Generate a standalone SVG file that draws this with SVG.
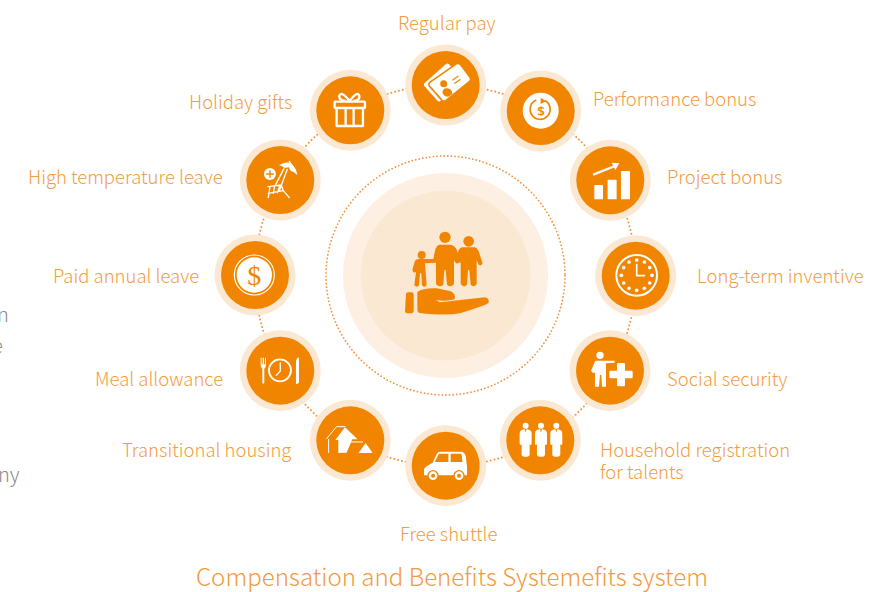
<svg xmlns="http://www.w3.org/2000/svg" width="894" height="592" viewBox="0 0 894 592">
<style>
.o{fill:#fbe8d3}.i{fill:#f18500}
.w{fill:#fff}.s{fill:none;stroke:#fff;stroke-linecap:round;stroke-linejoin:round}.f{fill:#f18500}.fs{fill:none;stroke:#f18500;stroke-linecap:round;stroke-linejoin:round}
.d{fill:none;stroke:#f2923a;stroke-width:2;stroke-linecap:round;stroke-dasharray:0 3.9}
text{font-family:"Noto Sans CJK SC","Noto Sans",sans-serif;font-weight:300}
.l{font-size:18.5px;fill:#f39c42}
.g{font-size:20px;fill:#8a8a8a}
</style>
<rect width="894" height="592" fill="#fff"/>
<text class="g" x="-3" y="322">n</text>
<text class="g" x="-8" y="353">e</text>
<text class="g" x="-2" y="482">ny</text>
<g id="connectors">
<circle class="d" cx="445.5" cy="275.5" r="190.5"/>
</g>
<g id="center">
<circle cx="445.5" cy="275.5" r="119.5" class="d" style="stroke-width:1.8;stroke-dasharray:0 3.6"/>
<circle cx="445.5" cy="275.5" r="102.5" fill="#fdf0e3"/>
<circle cx="445.5" cy="275.5" r="85" fill="#fbe8d3"/>
<g transform="translate(380,210) scale(.3333)" class="f">
<circle cx="195" cy="82" r="17"/><circle cx="266" cy="94" r="16"/><circle cx="125" cy="135" r="12"/>
<path d="M178 104H212Q226 106 232 124L240 155Q234 164 226 158L222 150V222Q212 234 201 224L197 180H193L190 224Q178 234 168 222V158L135 160L140 226Q132 234 126 226L124 190H120L117 226Q110 234 103 226L108 186L102 188Q96 184 98 176L105 152Q108 146 120 147H160L166 118Q170 106 178 104Z"/>
<path d="M246 112H284Q292 114 296 124L308 160Q304 170 296 164L290 150V222Q282 234 272 224L268 180H264L261 224Q252 234 242 222V158L232 155Q226 150 230 142L236 120Q240 114 246 112Z"/>
<path d="M84 247H96Q101 248 101 254V303Q100 310 94 310H80Q75 309 75 303L78 252Q79 248 84 247Z"/>
<path d="M112 246Q130 233 170 235L212 244Q228 252 224 268Q200 275 168 270L180 277L315 262Q328 265 326 278Q322 284 240 310Q200 318 118 309Q112 306 112 300Z"/>
</g>
</g>
<text x="196" y="586" style="font-size:24.1px;fill:#f29a3c">Compensation and Benefits Systemefits system</text>

<g id="regular-pay" transform="translate(445.7,85)"><circle class="o" r="40.5"/><circle class="i" r="34"/>
<g transform="scale(.3333) translate(-437,-165)">
<path class="w" d="M373 160L438 102Q443 99 447 103L470 130L430 205L420 214Q415 216 411 211L373 168Q370 164 373 160Z"/>
<path class="w" d="M388 158L470 101Q476 98 481 103L511 143Q514 149 509 154L438 211Q431 216 426 211L388 168Q385 162 388 158Z" stroke="#f18500" stroke-width="5"/>
<path class="fs" d="M458 150L474 139M464 160L480 149" stroke-width="3.5"/>
<circle class="f" cx="431" cy="161" r="10.5"/>
<path class="f" d="M427 190Q428 174 441 175Q456 176 457 192L447 199Q435 203 427 190Z"/>
</g></g>
<text class="l" x="398" y="30">Regular pay</text>

<g id="performance-bonus" transform="translate(540.7,111)"><circle class="o" r="40.5"/><circle class="i" r="34"/>
<g transform="scale(.3333) translate(-722,-243)">
<circle class="w" cx="722" cy="242" r="54"/>
<path class="fs" d="M737 213A30 30 0 1 1 707 211" stroke-width="5"/>
<path class="f" d="M722 203L738 214L722 222Z"/>
<text x="723" y="258" text-anchor="middle" style="font-family:'Noto Sans',sans-serif;font-size:40px;font-weight:600;fill:#f18500">$</text>
</g></g>
<text class="l" x="593" y="106">Performance bonus</text>

<g id="project-bonus" transform="translate(610.3,180.3)"><circle class="o" r="40.5"/><circle class="i" r="34"/>
<g transform="scale(.3333) translate(-331,-151)">
<rect class="w" x="283" y="165" width="26" height="43" rx="2"/><rect class="w" x="323" y="149" width="27" height="59" rx="2"/><rect class="w" x="363" y="123" width="27" height="85" rx="2"/>
<path class="s" d="M282 133L345 108" stroke-width="7"/>
<path class="w" d="M335 98L358 100L346 120Z"/>
</g></g>
<text class="l" x="667" y="184">Project bonus</text>

<g id="long-term" transform="translate(635.7,275.7)"><circle class="o" r="40.5"/><circle class="i" r="34"/>
<g transform="scale(.3333) translate(-407,-437)">
<circle class="s" cx="410" cy="436" r="61" stroke-width="6"/>
<g class="w"><circle cx="410" cy="390" r="5.5"/><circle cx="433" cy="396" r="5.5"/><circle cx="449" cy="413" r="5.5"/><circle cx="456" cy="436" r="5.5"/><circle cx="449" cy="459" r="5.5"/><circle cx="433" cy="475" r="5.5"/><circle cx="410" cy="481" r="5.5"/><circle cx="387" cy="475" r="5.5"/><circle cx="371" cy="459" r="5.5"/><circle cx="364" cy="436" r="5.5"/><circle cx="371" cy="413" r="5.5"/><circle cx="387" cy="396" r="5.5"/></g>
<path class="s" d="M410 404V437H433" stroke-width="5"/>
</g></g>
<text class="l" x="697" y="283">Long-term inventive</text>

<g id="social-security" transform="translate(610,370.7)"><circle class="o" r="40.5"/><circle class="i" r="34"/>
<g transform="scale(.3333) translate(-630,-152)">
<circle class="w" cx="600" cy="106" r="11"/>
<path class="w" d="M586 122H642Q648 124 642 128L618 130V200H606L604 165H600L597 200H585V158H578L573 152Z"/>
<rect class="w" x="628" y="152" width="70" height="23" rx="4"/><rect class="w" x="651" y="129" width="24" height="70" rx="4"/>
</g></g>
<text class="l" x="667" y="386">Social security</text>

<g id="household" transform="translate(540.3,440.3)"><circle class="o" r="40.5"/><circle class="i" r="34"/>
<g transform="scale(.3333) translate(-421,-361)">
<circle class="w" cx="377" cy="317" r="9"/><path class="w" d="M365 330L374 327L377 338L380 327L389 330Q395 332 395 340V372Q392 378 389 372V405Q387 411 379 410H375Q367 411 365 405V372Q362 378 359 372V340Q359 332 365 330Z"/>
<g transform="translate(46,0)"><circle class="w" cx="377" cy="317" r="9"/><path class="w" d="M365 330L374 327L377 338L380 327L389 330Q395 332 395 340V372Q392 378 389 372V405Q387 411 379 410H375Q367 411 365 405V372Q362 378 359 372V340Q359 332 365 330Z"/></g>
<g transform="translate(92,0)"><circle class="w" cx="377" cy="317" r="9"/><path class="w" d="M365 330L374 327L377 338L380 327L389 330Q395 332 395 340V372Q392 378 389 372V405Q387 411 379 410H375Q367 411 365 405V372Q362 378 359 372V340Q359 332 365 330Z"/></g>
</g></g>
<text class="l" x="600" y="457">Household registration<tspan x="600" dy="21.5">for talents</tspan></text>

<g id="free-shuttle" transform="translate(445.7,465.7)"><circle class="o" r="40.5"/><circle class="i" r="34"/>
<g transform="scale(.3333) translate(-137,-437)">
<path class="w" d="M72 466V448Q74 440 98 428L110 402Q113 395 122 395H184Q194 396 197 408L201 440V466Z"/>
<path class="f" d="M117 401H145V426H104ZM152 401H183Q186 402 187 426H152Z"/>
<circle class="f" cx="99" cy="467" r="17"/><circle class="w" cx="99" cy="467" r="13"/><circle class="f" cx="99" cy="467" r="6"/>
<circle class="f" cx="177" cy="467" r="17"/><circle class="w" cx="177" cy="467" r="13"/><circle class="f" cx="177" cy="467" r="6"/>
</g></g>
<text class="l" x="400" y="541">Free shuttle</text>

<g id="transitional-housing" transform="translate(350.3,440.3)"><circle class="o" r="40.5"/><circle class="i" r="34"/>
<g transform="scale(.3333) translate(-361,-361)">
<path class="w" d="M345 322L383 358H367L350 398L325 399V360H316Z"/>
<path class="w" d="M407 369L428 399H386Z"/>
<path class="s" d="M290 356L320 320H345M296 358V398M362 366H398" stroke-width="3"/>
</g></g>
<text class="l" x="122" y="457">Transitional housing</text>

<g id="meal-allowance" transform="translate(280.3,370.7)"><circle class="o" r="40.5"/><circle class="i" r="34"/>
<g transform="scale(.3333) translate(-151,-151)">
<path class="w" d="M92 112H95V132H98V112H102V132H105V112H108V135Q108 142 103 145V188Q100 192 97 188V145Q92 142 92 135Z"/>
<circle class="s" cx="150" cy="150" r="33" stroke-width="5.5"/>
<path class="s" d="M151 128V152L139 165" stroke-width="4"/>
<path class="w" d="M198 190V122Q202 110 207 112V186Q203 193 198 190Z"/>
</g></g>
<text class="l" x="95" y="386">Meal allowance</text>

<g id="paid-annual-leave" transform="translate(255,275)"><circle class="o" r="40.5"/><circle class="i" r="34"/>
<g transform="scale(.3333) translate(-165,-435)">
<circle class="s" cx="163" cy="435" r="60" stroke-width="3.5"/>
<circle class="w" cx="163" cy="435" r="53"/>
<text x="163" y="464" text-anchor="middle" style="font-family:'Liberation Serif',serif;font-size:84px;font-weight:400;fill:#f18500">$</text>
</g></g>
<text class="l" x="53" y="283">Paid annual leave</text>

<g id="high-temperature-leave" transform="translate(280.3,180)"><circle class="o" r="40.5"/><circle class="i" r="34"/>
<g transform="scale(.3333) translate(-241,-150)">
<circle class="w" cx="210" cy="132" r="18"/><path class="fs" d="M200 132H220M210 122V142" stroke-width="4"/>
<path class="w" d="M237 106Q258 92 275 102Q290 115 292 136Q285 126 272 122L266 112L254 114Q245 106 237 106Z"/>
<path class="s" d="M268 94L274 104M262 118L238 182M252 116L224 170M204 170L244 165L250 182L205 190M210 170L205 203M250 182L268 203M240 166L232 188M224 168L220 190" stroke-width="4"/>
</g></g>
<text class="l" x="28" y="184">High temperature leave</text>

<g id="holiday-gifts" transform="translate(350.3,110.3)"><circle class="o" r="40.5"/><circle class="i" r="34"/>
<g transform="scale(.3333) translate(-151,-241)">
<rect class="s" x="104" y="215" width="91" height="19" rx="2" stroke-width="7"/>
<path class="s" d="M110 236V288H189V236M137 236V288M161 236V288" stroke-width="7"/>
<path class="s" d="M149 213Q125 182 118 197Q116 210 135 213M149 213Q172 182 178 197Q181 210 163 213" stroke-width="7"/>
</g></g>
<text class="l" x="189" y="109">Holiday gifts</text>
</svg>
